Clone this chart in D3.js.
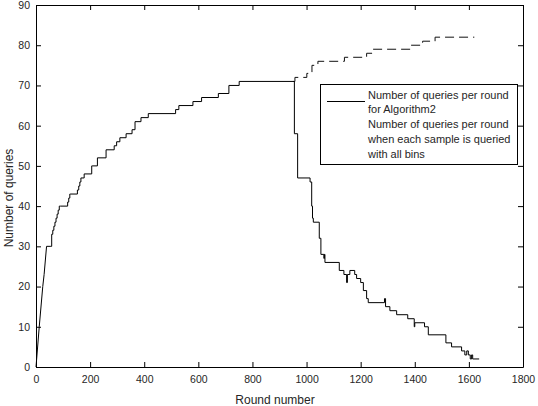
<!DOCTYPE html>
<html>
<head>
<meta charset="utf-8">
<script src="https://cdn.jsdelivr.net/npm/d3@7"></script>
<style>
  html, body { margin: 0; padding: 0; background: #fff; }
  svg { display: block; font-family: "Liberation Sans", Arial, sans-serif; }
</style>
</head>
<body>
<svg id="chart" width="538" height="406"></svg>
<script>
// ---- data ----
const xTicks = [0, 200, 400, 600, 800, 1000, 1200, 1400, 1600, 1800];
const yTicks = [0, 10, 20, 30, 40, 50, 60, 70, 80, 90];

// Algorithm2, initial steep ramp (drawn point to point)
const rampRounds = [0, 12, 25, 30, 39];
const rampQueries = [0, 10, 20, 23, 30];

// Algorithm2, stepped part (round where value starts, value)
const roundsA = [39, 55, 58, 62, 66, 70, 74, 78, 82, 86, 91, 117, 121, 125, 128, 153, 158, 162, 166, 170, 178, 206, 210, 227, 259, 289, 298, 310, 333, 355, 366, 388, 415, 516, 528, 580, 612, 674, 713, 751,
  955, 967, 1013, 1019, 1022, 1025, 1047, 1053, 1064, 1066, 1068, 1121, 1138, 1148, 1151, 1160, 1178, 1185, 1200, 1210, 1222, 1228, 1288, 1292, 1308, 1333, 1374, 1398, 1400, 1436, 1450, 1515, 1536, 1573, 1585, 1592, 1598, 1605, 1610, 1614, 1638];
const queriesA = [30, 30, 33, 34, 35, 36, 37, 38, 39, 40, 40, 41, 42, 43, 43, 44, 45, 46, 47, 47, 48, 50, 50, 52, 54, 55, 56, 57, 58, 59, 61, 62, 63, 64, 65, 66, 67, 68, 70, 71,
  58, 47, 46, 40, 37, 36, 32, 28, 27, 28, 26, 24, 23, 21, 23, 24, 23, 22, 21, 19, 17, 16, 17, 15, 14, 13, 12, 10, 11, 10, 8, 6, 5, 4, 3, 4, 3, 2, 3, 2, 2];

// every sample queried with all bins (follows Algorithm2 up to round ~950)
const roundsB = [951, 957, 1001, 1020, 1042, 1140, 1222, 1242, 1385, 1429, 1475, 1620];
const queriesB = [71, 72, 73, 75, 76, 77, 78, 79, 80, 81, 82, 82];

const legendA = ["Number of queries per round", "for Algorithm2"];
const legendB = ["Number of queries per round", "when each sample is queried", "with all bins"];

// ---- drawing ----
const svg = d3.select("#chart");
const pLeft = 36, pRight = 523, pTop = 5, pBottom = 367;

const x = d3.scaleLinear().domain([0, 1800]).range([pLeft, pRight]);
const y = d3.scaleLinear().domain([0, 90]).range([pBottom, pTop]);

const fontSize = 10.5;
const textColor = "#262626";

// series
const dataRamp = rampRounds.map((r, i) => [r, rampQueries[i]]);
const dataA = roundsA.map((r, i) => [r, queriesA[i]]);
const dataB = roundsB.map((r, i) => [r, queriesB[i]]);
const stepLine = d3.line().x(d => x(d[0])).y(d => y(d[1])).curve(d3.curveStepAfter);
const straightLine = d3.line().x(d => x(d[0])).y(d => y(d[1]));

svg.append("path").datum(dataB)
  .attr("d", stepLine).attr("fill", "none")
  .attr("stroke", "#111").attr("stroke-width", 1)
  .attr("stroke-dasharray", "9,5");

svg.append("path").datum(dataRamp)
  .attr("d", straightLine).attr("fill", "none")
  .attr("stroke", "#000").attr("stroke-width", 1);
svg.append("path").datum(dataA)
  .attr("d", stepLine).attr("fill", "none")
  .attr("stroke", "#000").attr("stroke-width", 1);

// axes
function styleAxis(g, hideLabels) {
  g.select(".domain").attr("stroke", "#000");
  g.selectAll(".tick line").attr("stroke", "#000");
  g.selectAll(".tick text").attr("fill", textColor).style("font-size", fontSize + "px")
    .attr("font-family", "Liberation Sans, Arial, sans-serif");
  if (hideLabels) g.selectAll(".tick text").remove();
}

svg.append("g").attr("transform", `translate(0,${pBottom})`)
  .call(d3.axisBottom(x).tickValues(xTicks).tickSizeInner(-5).tickSizeOuter(0).tickPadding(9).tickFormat(d3.format("d")))
  .call(g => styleAxis(g, false));
svg.append("g").attr("transform", `translate(0,${pTop})`)
  .call(d3.axisTop(x).tickValues(xTicks).tickSizeInner(-5).tickSizeOuter(0))
  .call(g => styleAxis(g, true));
svg.append("g").attr("transform", `translate(${pLeft},0)`)
  .call(d3.axisLeft(y).tickValues(yTicks).tickSizeInner(-5).tickSizeOuter(0).tickPadding(6).tickFormat(d3.format("d")))
  .call(g => styleAxis(g, false));
svg.append("g").attr("transform", `translate(${pRight},0)`)
  .call(d3.axisRight(y).tickValues(yTicks).tickSizeInner(-5).tickSizeOuter(0))
  .call(g => styleAxis(g, true));

// axis titles
svg.append("text").attr("x", 275).attr("y", 404)
  .attr("text-anchor", "middle").style("font-size", "12px").attr("fill", textColor)
  .text("Round number");
svg.append("text").attr("transform", `translate(13,198) rotate(-90)`)
  .attr("text-anchor", "middle").style("font-size", "12px").attr("fill", textColor)
  .text("Number of queries");

// legend
const lg = svg.append("g");
lg.append("rect").attr("x", 320.5).attr("y", 84.5).attr("width", 197).attr("height", 80)
  .attr("fill", "#fff").attr("stroke", "#000").attr("stroke-width", 1);
lg.append("line").attr("x1", 327).attr("x2", 365).attr("y1", 101.5).attr("y2", 101.5)
  .attr("stroke", "#000").attr("stroke-width", 1);
const legendLines = legendA.concat(legendB);
lg.selectAll("text.leg").data(legendLines).enter().append("text")
  .attr("class", "leg")
  .attr("x", 368).attr("y", (d, i) => 98.5 + i * 14.8)
  .style("font-size", "11px").attr("fill", textColor)
  .text(d => d);
</script>
</body>
</html>
